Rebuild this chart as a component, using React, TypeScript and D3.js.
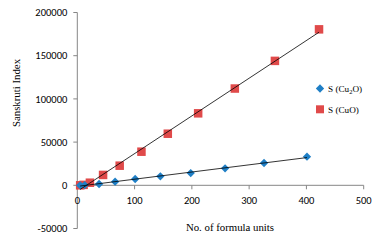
import React from "react";
import * as d3 from "d3";

const cu2oX = [5, 13, 38, 66, 101, 145, 198, 258, 326, 401];
const cu2oY = [0, 300, 1500, 4200, 7300, 10400, 14200, 19700, 25800, 33100];
const cuoX = [5, 11, 22, 45, 74, 112, 158, 211, 275, 345, 422];
const cuoY = [0, 500, 3000, 12000, 22700, 38900, 59700, 83300, 112000, 144000, 180500];
const xTicks = [0, 100, 200, 300, 400, 500];
const yTicks = [-50000, 0, 50000, 100000, 150000, 200000];
const seriesNames = ["S (Cu", "2", "O)"];

function fit(xs: number[], ys: number[]) {
  const mx = d3.mean(xs)!;
  const my = d3.mean(ys)!;
  let num = 0, den = 0;
  xs.forEach((x, i) => { num += (x - mx) * (ys[i] - my); den += (x - mx) ** 2; });
  const b = num / den;
  const a = my - b * mx;
  return (x: number) => a + b * x;
}

export default function App() {
  const W = 378, H = 242;
  const x = d3.scaleLinear().domain([0, 500]).range([77.3, 363.7]);
  const y = d3.scaleLinear().domain([-50000, 200000]).range([228.5, 12.5]);
  const axisColor = "#868686";
  const f1 = fit(cu2oX, cu2oY);
  const f2 = fit(cuoX, cuoY);
  const x1 = d3.extent(cu2oX) as [number, number];
  const x2 = d3.extent(cuoX) as [number, number];
  const diamond = d3.symbol().type(d3.symbolDiamond2).size(44)()!;
  const sq = 8.5;
  const tickFont = "Carlito, 'Liberation Sans', sans-serif";
  return (
    <svg width={W} height={H} style={{ position: "absolute", left: 0, top: 0, background: "#fff" }}>
      {/* y axis */}
      <line x1={x(0)} x2={x(0)} y1={y(-50000)} y2={y(200000)} stroke={axisColor} strokeWidth={1} />
      {yTicks.map((t) => (
        <g key={t}>
          <line x1={x(0) - 4} x2={x(0)} y1={y(t)} y2={y(t)} stroke={axisColor} />
          <text x={x(0) - 10} y={y(t)} dy="0.36em" textAnchor="end" fontFamily={tickFont} fontSize={10.5} fill="#000">{t}</text>
        </g>
      ))}
      {/* x axis */}
      <line x1={x(0)} x2={x(500)} y1={y(0)} y2={y(0)} stroke={axisColor} />
      {xTicks.map((t) => (
        <g key={t}>
          <line x1={x(t)} x2={x(t)} y1={y(0)} y2={y(0) + 4} stroke={axisColor} />
          <text x={x(t)} y={y(0) + 19} textAnchor="middle" fontFamily={tickFont} fontSize={10.5} fill="#000">{t}</text>
        </g>
      ))}
      {/* titles */}
      <text transform="translate(20,93) rotate(-90)" textAnchor="middle" fontFamily="'Liberation Serif', serif" fontSize={10.8} fill="#000">Sanskruti Index</text>
      <text x={230} y={230.5} textAnchor="middle" fontFamily="'Liberation Serif', serif" fontSize={10.8} fill="#000">No. of formula units</text>
      {/* points */}
      {cuoX.map((v, i) => (
        <rect key={"s" + i} x={x(v) - sq / 2} y={y(cuoY[i]) - sq / 2} width={sq} height={sq} fill="#e04a4a" />
      ))}
      {cu2oX.map((v, i) => (
        <path key={"d" + i} d={diamond} transform={`translate(${x(v)},${y(cu2oY[i])})`} fill="#1f7fc6" />
      ))}
      {/* trendlines */}
      <line x1={x(x2[0])} y1={y(f2(x2[0]))} x2={x(x2[1])} y2={y(f2(x2[1]))} stroke="#000" strokeWidth={0.8} />
      <line x1={x(x1[0])} y1={y(f1(x1[0]))} x2={x(x1[1])} y2={y(f1(x1[1]))} stroke="#000" strokeWidth={0.8} />
      {/* legend */}
      <path d={diamond} transform="translate(320,88.5)" fill="#1f7fc6" />
      <text x={328} y={88.5} dy="0.35em" fontFamily="'Liberation Serif', serif" fontSize={9.2} fill="#000">
        {seriesNames[0]}<tspan fontSize={6.5} dy="2">{seriesNames[1]}</tspan><tspan dy="-2">{seriesNames[2]}</tspan>
      </text>
      <rect x={316} y={105.3} width={8} height={8} fill="#e04a4a" />
      <text x={328} y={109.3} dy="0.35em" fontFamily="'Liberation Serif', serif" fontSize={9.2} fill="#000">S (CuO)</text>
    </svg>
  );
}
